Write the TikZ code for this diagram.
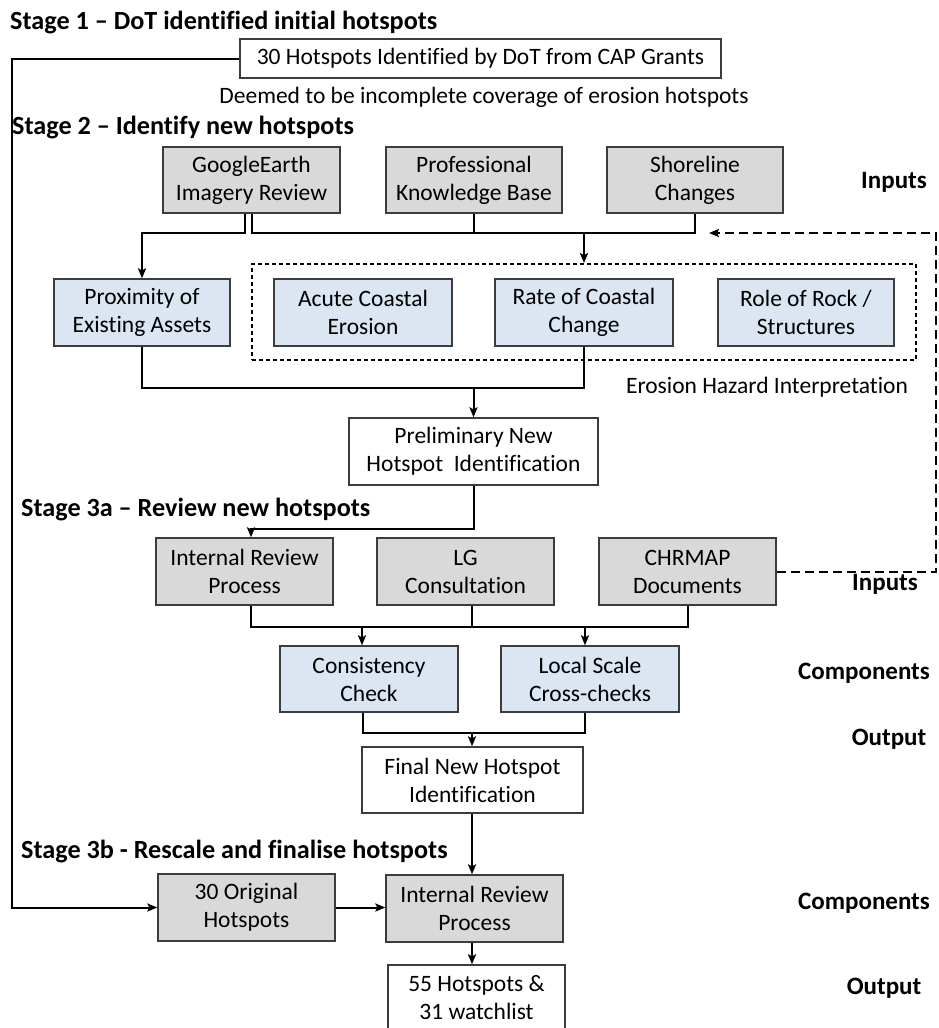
\documentclass[tikz,border=0pt]{standalone}
\usepackage{fontspec}
\setmainfont{Carlito}[Ligatures={NoCommon}]
\usetikzlibrary{arrows.meta}

\definecolor{boxgray}{HTML}{D9D9D9}
\definecolor{boxblue}{HTML}{DCE5F2}
\definecolor{edgegray}{HTML}{3C3C3C}

\tikzset{
  base/.style={draw=edgegray, line width=1.3pt, align=center, inner sep=0pt,
    font=\fontsize{23.5}{28}\selectfont},
  graybox/.style={base, fill=boxgray},
  bluebox/.style={base, fill=boxblue},
  whitebox/.style={base, fill=white},
  stagetitle/.style={anchor=west, inner sep=0pt, font=\bfseries\fontsize{26.2}{30}\selectfont},
  sidelabel/.style={inner sep=0pt, font=\bfseries\fontsize{25}{30}\selectfont},
  note/.style={inner sep=0pt, font=\fontsize{23.5}{28}\selectfont},
  link/.style={line width=2pt, black},
  arrow/.style={link, -{Stealth[length=10pt, width=8pt, inset=2pt]}},
  feedback/.style={arrow, dash pattern=on 9pt off 5pt},
  group/.style={draw=black, line width=1.8pt, dash pattern=on 4pt off 3pt},
}

\begin{document}
\begin{tikzpicture}[x=1pt, y=1pt]
\useasboundingbox (0,0) rectangle (938,-1028);
\clip (0,0) rectangle (938,-1028);

% ---------- Stage 1 ----------
\node[stagetitle] (s1) at (10,-23) {Stage 1 – DoT identified initial hotspots};
\node[whitebox, minimum width=481pt, minimum height=39pt] (dot) at (480.5,-58.5)
  {30 Hotspots Identified by DoT from CAP Grants};
\node[note] (deemed) at (484,-97) {Deemed to be incomplete coverage of erosion hotspots};

% ---------- Stage 2 ----------
\node[stagetitle] (s2) at (12,-128) {Stage 2 – Identify new hotspots};
\node[graybox, minimum width=177pt, minimum height=66pt] (ge) at (251.5,-180)
  {GoogleEarth\\Imagery Review};
\node[graybox, minimum width=176pt, minimum height=66pt] (pk) at (474,-180)
  {Professional\\Knowledge Base};
\node[graybox, minimum width=176pt, minimum height=66pt] (sc) at (695,-180)
  {Shoreline\\Changes};
\node[sidelabel] (in1) at (894,-182) {Inputs};

\node[group, minimum width=664pt, minimum height=96pt, inner sep=0pt] (ehi) at (584,-312) {};
\node[bluebox, minimum width=176pt, minimum height=67pt] (prox) at (142,-312.5)
  {Proximity of\\Existing Assets};
\node[bluebox, minimum width=178pt, minimum height=67pt] (acute) at (363,-312.5)
  {Acute Coastal\\Erosion};
\node[bluebox, minimum width=178pt, minimum height=67pt] (rate) at (584,-312.5)
  {Rate of Coastal\\Change};
\node[bluebox, minimum width=176pt, minimum height=67pt] (role) at (806,-312.5)
  {Role of Rock /\\Structures};
\node[note] (ehilabel) at (767,-387) {Erosion Hazard Interpretation};

\node[whitebox, minimum width=249pt, minimum height=67pt] (prelim) at (473.5,-451.5)
  {Preliminary New\\Hotspot\ \ Identification};

% ---------- Stage 3a ----------
\node[stagetitle] (s3a) at (21,-510) {Stage 3a – Review new hotspots};
\node[graybox, minimum width=177pt, minimum height=67pt] (ir1) at (244.5,-571.5)
  {Internal Review\\Process};
\node[graybox, minimum width=177pt, minimum height=67pt] (lg) at (465.5,-571.5)
  {LG\\Consultation};
\node[graybox, minimum width=177pt, minimum height=67pt] (chr) at (687.5,-571.5)
  {CHRMAP\\Documents};
\node[sidelabel] (in2) at (885,-584) {Inputs};

\node[bluebox, minimum width=178pt, minimum height=66pt] (cons) at (369,-679)
  {Consistency\\Check};
\node[bluebox, minimum width=178pt, minimum height=66pt] (local) at (590,-679)
  {Local Scale\\Cross-checks};
\node[sidelabel] (comp1) at (864,-673) {Components};

\node[whitebox, minimum width=221pt, minimum height=66pt] (final) at (472.5,-780)
  {Final New Hotspot\\Identification};
\node[sidelabel] (out1) at (889,-739) {Output};

% ---------- Stage 3b ----------
\node[stagetitle] (s3b) at (21,-852) {Stage 3b - Rescale and finalise hotspots};
\node[graybox, minimum width=177pt, minimum height=67pt] (orig) at (246.5,-907.5)
  {30 Original\\Hotspots};
\node[graybox, minimum width=177pt, minimum height=67pt] (ir2) at (474.5,-908.5)
  {Internal Review\\Process};
\node[sidelabel] (comp2) at (864,-903) {Components};

\node[whitebox, minimum width=177pt, minimum height=65pt] (f55) at (476.5,-997.5)
  {55 Hotspots \&\\31 watchlist};
\node[sidelabel] (out2) at (884,-988) {Output};

% ---------- connectors ----------
\coordinate (bus1) at (0,-233);
\coordinate (bus2) at (0,-388);
\coordinate (bus3) at (0,-627);
\coordinate (bus4) at (0,-733);
\coordinate (rail) at (12,0);

% original hotspots carried straight to stage 3b
\draw[arrow] (dot.west) -- (dot.west -| rail) -- (orig.west -| rail) -- (orig.west);

% inputs of stage 2
\draw[arrow] (245,0 |- ge.south) -- (245,0 |- bus1) -- (prox.north |- bus1) -- (prox.north);
\draw[link] (252,0 |- ge.south) -- (252,0 |- bus1) -- (sc.south |- bus1) -- (sc.south);
\draw[link] (pk.south) -- (pk.south |- bus1);
\draw[arrow] (rate.north |- bus1) -- (rate.north |- ehi.north);

% feedback from CHRMAP documents
\draw[feedback] (chr.east) -- (936,0 |- chr.east) -- (936,0 |- bus1) -- (709,0 |- bus1);

% into preliminary identification
\draw[link] (prox.south) -- (prox.south |- bus2) -- (rate.south |- bus2) -- (rate.south);
\draw[arrow] (prelim.north |- bus2) -- (prelim.north);

% stage 3a
\draw[arrow] (prelim.south) -- (prelim.south |- 0,-529) -- (251,-529) -- (251,0 |- ir1.north);
\draw[link] (251,0 |- ir1.south) -- (251,0 |- bus3) -- (chr.south |- bus3) -- (chr.south);
\draw[link] (472,0 |- lg.south) -- (472,0 |- bus3);
\draw[arrow] (362,0 |- bus3) -- (362,0 |- cons.north);
\draw[arrow] (585,0 |- bus3) -- (585,0 |- local.north);

\draw[link] (363,0 |- cons.south) -- (363,0 |- bus4) -- (585,0 |- bus4) -- (585,0 |- local.south);
\draw[arrow] (472,0 |- bus4) -- (472,0 |- final.north);

% stage 3b
\draw[arrow] (472,0 |- final.south) -- (472,0 |- ir2.north);
\draw[arrow] (orig.east) -- (ir2.west |- orig.east);
\draw[arrow] (472,0 |- ir2.south) -- (472,0 |- f55.north);
\end{tikzpicture}
\end{document}
